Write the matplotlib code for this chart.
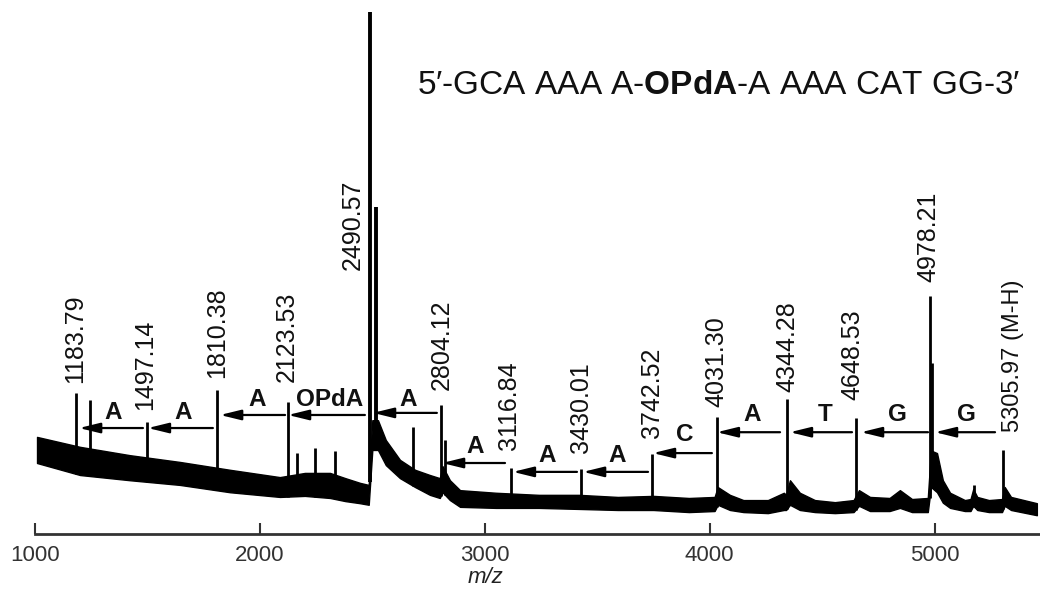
import numpy as np
import matplotlib
matplotlib.use('Agg')
from matplotlib import pyplot as plt

plt.rcParams['font.family'] = ['Liberation Sans', 'DejaVu Sans']
plt.rcParams['mathtext.fontset'] = 'custom'
plt.rcParams['mathtext.rm'] = 'Liberation Sans'
plt.rcParams['mathtext.bf'] = 'Liberation Sans:bold'

# noise band of the spectrum (m/z, upper and lower edge, % of base peak)
env_mz = [1009, 1200, 1422, 1645, 1867, 2089, 2200, 2312, 2380, 2445, 2484,
          2500, 2525, 2560, 2623, 2690, 2756, 2800, 2812, 2845, 2890, 3050,
          3241, 3420, 3592, 3750, 3908, 4022, 4036, 4090, 4150, 4259, 4330,
          4340, 4357, 4401, 4468, 4557, 4640, 4664, 4713, 4800, 4846, 4900,
          4970, 4984, 5011, 5037, 5069, 5135, 5160, 5172, 5190, 5242, 5300,
          5312, 5340, 5455]
env_high = [18.6, 16.7, 15.1, 13.8, 12.3, 10.9, 11.7, 11.7, 10.7, 9.8, 9.4,
            21.8, 21.8, 18.0, 14.2, 12.3, 11.3, 10.7, 13.0, 10.3, 8.4, 7.9,
            7.5, 7.5, 7.1, 7.3, 6.9, 7.1, 9.0, 7.5, 6.5, 6.5, 7.9,
            7.5, 10.3, 7.9, 6.5, 6.1, 6.5, 8.4, 7.1, 6.9, 8.4, 6.7,
            6.9, 16.0, 15.5, 10.3, 7.9, 6.5, 6.7, 8.6, 7.1, 6.5, 6.7,
            9.0, 7.1, 5.9]
env_low = [13.6, 11.3, 10.3, 9.4, 8.0, 7.1, 7.3, 6.9, 6.3, 5.9, 5.6,
           16.1, 16.1, 13.2, 10.7, 9.0, 7.5, 6.9, 8.0, 6.5, 5.2, 5.0,
           5.0, 4.8, 4.6, 4.6, 4.2, 4.4, 5.6, 4.6, 4.2, 4.0, 4.6,
           4.6, 5.6, 4.6, 4.2, 4.0, 4.2, 5.4, 4.4, 4.4, 5.0, 4.2,
           4.2, 9.0, 8.0, 6.0, 5.0, 4.4, 4.4, 5.4, 4.6, 4.2, 4.2,
           5.4, 4.6, 3.6]

# peaks (m/z, height)
peak_mz = [1184, 1244, 1497, 1810, 2123, 2165, 2245, 2334, 2490.6, 2517, 2681,
           2804, 2822, 3117, 3430, 3743, 4031, 4344, 4649, 4978, 4990, 5175, 5306]
peak_top = [27.0, 25.7, 21.5, 27.6, 25.3, 15.5, 16.5, 15.9, 100.0, 62.6, 20.5,
            24.7, 18.0, 12.6, 12.5, 15.3, 22.4, 25.9, 22.2, 45.6, 32.8, 9.4, 16.1]

# peak labels
label_text = ['1183.79', '1497.14', '1810.38', '2123.53', '2490.57', '2804.12',
              '3116.84', '3430.01', '3742.52', '4031.30', '4344.28', '4648.53',
              '4978.21', '5305.97 (M-H)']
label_mz = [1180, 1489, 1808, 2120, 2414, 2810, 3108, 3430, 3743, 4032, 4344,
            4633, 4971, 5350]
label_y = [28.9, 23.8, 29.9, 29.1, 50.6, 27.6, 16.1, 15.5, 18.4, 24.3, 27.2,
           25.7, 48.3, 19.5]

# ladder arrows: nucleotide, tail, tip, arrow level, letter position
step_name = ['A', 'A', 'A', 'OPdA', 'A', 'A', 'A', 'A', 'C', 'A', 'T', 'G', 'G']
step_from = [1480, 1791, 2112, 2467, 2787, 3090, 3410, 3726, 4010, 4313, 4633, 4971, 5269]
step_to = [1196, 1502, 1823, 2125, 2503, 2810, 3125, 3437, 3748, 4032, 4357, 4673, 5002]
step_y = [20.3, 20.3, 22.8, 22.8, 23.2, 13.6, 11.9, 11.9, 15.5, 19.5, 19.5, 19.5, 19.5]
step_text_mz = [1347, 1658, 1987, 2312, 2659, 2956, 3277, 3588, 3890, 4188, 4513, 4833, 5144]
step_text_y = [23.2, 23.2, 25.7, 25.7, 25.7, 16.7, 15.1, 15.1, 19.0, 22.8, 22.8, 22.8, 22.8]

fig = plt.figure(figsize=(10.4, 5.89), dpi=100)
ax = fig.add_axes([35 / 1040, 55 / 589, 1 - 35 / 1040, 534 / 589])

ax.fill_between(env_mz, env_low, env_high, color='black', lw=1.0, zorder=2)
base = np.interp(peak_mz, env_mz, env_low)
widths = [2.8 if t > 60 else 2.0 for t in peak_top]
ax.vlines(peak_mz, base, peak_top, color='black', lw=widths, zorder=3)

for t, x, y in zip(label_text, label_mz, label_y):
    fs = 17 if '(' in t else 18
    ax.text(x, y, t, rotation=90, ha='center', va='bottom', fontsize=fs,
            color='#111111')

for name, x0, x1, y, tx, ty in zip(step_name, step_from, step_to, step_y,
                                   step_text_mz, step_text_y):
    ax.annotate('', xy=(x1, y), xytext=(x0, y),
                arrowprops=dict(arrowstyle='-|>,head_length=0.9,head_width=0.22',
                                color='black', lw=1.6, mutation_scale=14,
                                shrinkA=0, shrinkB=0))
    ax.text(tx, ty, name, ha='center', va='center', fontsize=17.5,
            fontweight='bold', color='#111111')

ax.text(0.38, 0.84, "5′-GCA AAA A-$\\mathbf{OPdA}$-A AAA CAT GG-3′",
        transform=ax.transAxes, fontsize=24, va='center', ha='left',
        color='#111111')

ax.set_xlim(1000, 5469)
ax.set_ylim(0, 102.3)
ax.set_xticks([1000, 2000, 3000, 4000, 5000])
ax.set_yticks([])
for s in ['left', 'right', 'top']:
    ax.spines[s].set_visible(False)
ax.spines['bottom'].set_linewidth(2)
ax.spines['bottom'].set_color('#333333')
ax.tick_params(axis='x', direction='in', length=8, width=1.5, colors='#333333',
               labelsize=16, pad=8)
ax.set_xlabel('m/z', fontsize=16, style='italic', color='#222222')
ax.xaxis.set_label_coords(0.448, -0.062)
ax.patch.set_alpha(0)

fig.savefig('out.png', dpi=100)
